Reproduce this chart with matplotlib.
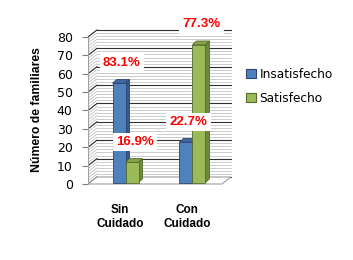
import numpy as np
import matplotlib
matplotlib.use("Agg")
import matplotlib.pyplot as plt
from matplotlib.patches import Polygon, Patch

categories = ["Sin\nCuidado", "Con\nCuidado"]
series = ["Insatisfecho", "Satisfecho"]
insatisfecho = [54, 22]
satisfecho = [11, 75]
etiquetas = [["83.1%", "22.7%"], ["16.9%", "77.3%"]]
yticks = [0, 10, 20, 30, 40, 50, 60, 70, 80]

front_col = ["#4F81BD", "#9BBB59"]
side_col = ["#34598a", "#6f8a3c"]
top_col = ["#41689c", "#86a64a"]
edge_col = ["#2b4670", "#56692c"]

fig = plt.figure(figsize=(3.53, 2.60), dpi=100)
ax = fig.add_axes([88 / 353, 0.2853, 144 / 353, 0.615])
ax.set_xlim(-0.53, 1.62)
ax.set_ylim(-1, 86)
for s in ax.spines.values():
    s.set_visible(False)

# walls and floor, drawn as a fake 3D box
wx0, wx1 = -0.53, 1.47
ddx, ddy = 0.134, 3.8
grid_c = "#303030"
minor_c = "#b8b8b8"
for v in np.arange(0, 80.01, 10 / 6):
    ax.plot([wx0 + ddx, wx1 + ddx], [v + ddy, v + ddy], color=minor_c, lw=0.5, zorder=1)
    ax.plot([wx0, wx0 + ddx], [v, v + ddy], color=minor_c, lw=0.5, zorder=1)
for v in yticks:
    ax.plot([wx0 + ddx, wx1 + ddx], [v + ddy, v + ddy], color=grid_c, lw=0.8, zorder=2)
    ax.plot([wx0, wx0 + ddx], [v, v + ddy], color=grid_c, lw=0.8, zorder=2)
ax.add_patch(Polygon([(wx0, 0), (wx1, 0), (wx1 + ddx, ddy), (wx0 + ddx, ddy)],
                     closed=True, facecolor="white", edgecolor="#a0a0a0", lw=0.8, zorder=2))
ax.plot([wx0, wx0], [0, 80], color="#a0a0a0", lw=0.8, zorder=2)

# bars: front via ax.bar, top and side faces as polygons
w = 0.194
bx, by = 0.03, 0.8
dx, dy = 0.06, 2.0
x = np.arange(len(categories))
for i, vals in enumerate([insatisfecho, satisfecho]):
    x0 = x - w + i * w + bx
    ax.bar(x0, vals, width=w, bottom=by, align="edge", color=front_col[i],
           edgecolor=edge_col[i], lw=0.6, zorder=5 + 2 * i)
    for xx, v, lab in zip(x0, vals, etiquetas[i]):
        top = by + v
        ax.add_patch(Polygon([(xx, top), (xx + w, top), (xx + w + dx, top + dy), (xx + dx, top + dy)],
                             closed=True, facecolor=top_col[i], edgecolor=edge_col[i], lw=0.6, zorder=4 + 2 * i))
        ax.add_patch(Polygon([(xx + w, by), (xx + w + dx, by + dy), (xx + w + dx, top + dy), (xx + w, top)],
                             closed=True, facecolor=side_col[i], edgecolor=edge_col[i], lw=0.6, zorder=4 + 2 * i))
        ax.text(xx + w / 2 + 0.04, top + 11, lab, ha="center", va="center", color="#ff0000",
                family="Liberation Sans", weight="bold", fontsize=9.5, zorder=20,
                bbox=dict(boxstyle="square,pad=0.25", facecolor="white", edgecolor="none"))

ax.set_yticks(yticks)
ax.set_yticklabels([str(t) for t in yticks], family="DejaVu Sans", fontsize=9)
ax.tick_params(axis="y", length=4, width=0.8, color="#808080", pad=7)
ax.set_xticks(x - 0.05)
ax.set_xticklabels(categories, family="Liberation Sans", weight="bold", fontsize=8.5, linespacing=1.25)
ax.tick_params(axis="x", length=0, pad=13)

fig.text(37 / 353, 1 - 110 / 260, "Número de familiares", rotation=90, ha="center", va="center",
         family="Liberation Sans", weight="bold", fontsize=8.8)

handles = [Patch(facecolor=front_col[i], edgecolor=edge_col[i], lw=0.8) for i in range(2)]
fig.legend(handles, series, loc="upper left", bbox_to_anchor=(246 / 353, 1 - 68 / 260),
           frameon=False, prop=dict(family="DejaVu Sans", size=8.7), handlelength=0.8,
           handleheight=0.8, handletextpad=0.3, labelspacing=0.9, borderpad=0, borderaxespad=0)

fig.savefig("out.png", dpi=100)
